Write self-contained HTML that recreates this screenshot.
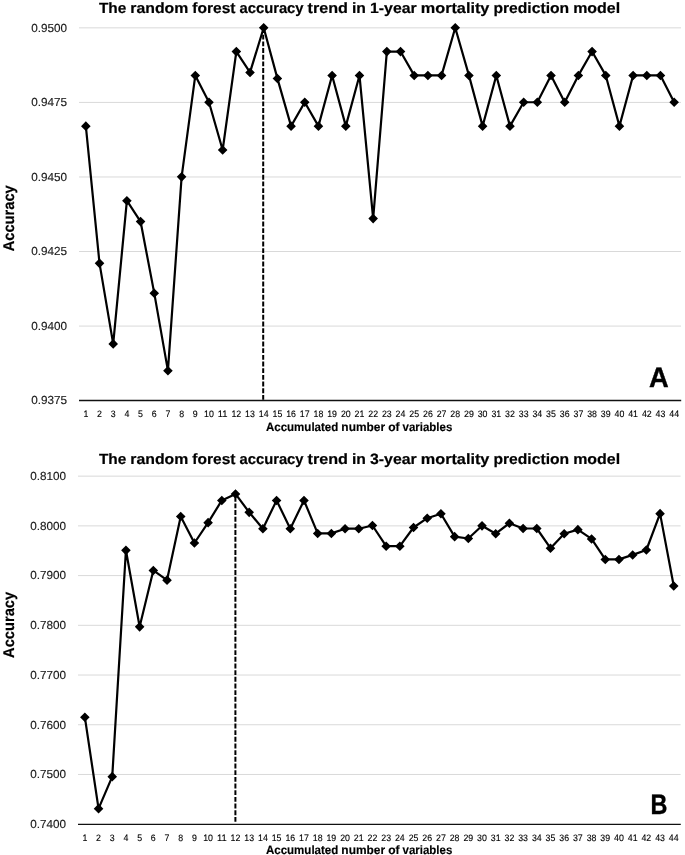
<!DOCTYPE html>
<html lang="en"><head><meta charset="utf-8"><title>Random forest accuracy trend</title>
<style>html,body{margin:0;padding:0;background:#fff}svg{display:block}text{font-family:"Liberation Sans", sans-serif;text-rendering:geometricPrecision}.t{font-weight:bold;font-size:14.9px;fill:#000;stroke:#000;stroke-width:0.2px}.yt{font-weight:bold;font-size:15.5px;fill:#000;stroke:#000;stroke-width:0.2px}.yl{font-size:11.7px;fill:#1a1a1a;stroke:#1a1a1a;stroke-width:0.15px;text-anchor:end}.xl{font-size:9.3px;fill:#000;stroke:#000;stroke-width:0.12px;text-anchor:middle}.xt{font-weight:bold;font-size:12.1px;fill:#000;stroke:#000;stroke-width:0.15px}.big{font-weight:bold;font-size:28.2px;fill:#000;stroke:#000;stroke-width:0.4px}.g{stroke:#d9d9d9;stroke-width:1;fill:none}.ax{stroke:#111;stroke-width:1.3;fill:none}.ln{stroke:#000;stroke-width:2.2;fill:none;stroke-linejoin:round;stroke-linecap:round}.d{stroke:#000;stroke-width:2;stroke-dasharray:4.9 1.77;fill:none}.m{fill:#000}</style></head><body>
<svg width="685" height="855" viewBox="0 0 685 855">
<rect width="685" height="855" fill="#fff"/>
<line class="g" x1="79.0" x2="681.0" y1="27.85" y2="27.85"/>
<line class="g" x1="79.0" x2="681.0" y1="102.41" y2="102.41"/>
<line class="g" x1="79.0" x2="681.0" y1="176.97" y2="176.97"/>
<line class="g" x1="79.0" x2="681.0" y1="251.53" y2="251.53"/>
<line class="g" x1="79.0" x2="681.0" y1="326.09" y2="326.09"/>
<text class="yl" x="67.0" y="31.50" textLength="35.8" lengthAdjust="spacingAndGlyphs">0.9500</text>
<text class="yl" x="67.0" y="106.06" textLength="35.8" lengthAdjust="spacingAndGlyphs">0.9475</text>
<text class="yl" x="67.0" y="180.62" textLength="35.8" lengthAdjust="spacingAndGlyphs">0.9450</text>
<text class="yl" x="67.0" y="255.18" textLength="35.8" lengthAdjust="spacingAndGlyphs">0.9425</text>
<text class="yl" x="67.0" y="329.74" textLength="35.8" lengthAdjust="spacingAndGlyphs">0.9400</text>
<text class="yl" x="67.0" y="404.30" textLength="35.8" lengthAdjust="spacingAndGlyphs">0.9375</text>
<line class="ax" x1="79.0" x2="681.2" y1="400.50" y2="400.50"/>
<line class="d" x1="263.20" x2="263.20" y1="399.80" y2="30.70"/>
<polyline class="ln" points="85.84,126.12 99.52,263.31 113.20,343.83 126.89,200.68 140.57,221.56 154.25,293.13 167.93,370.68 181.61,176.82 195.30,75.42 208.98,102.26 222.66,149.98 236.34,51.56 250.02,72.44 263.70,27.70 277.39,78.40 291.07,126.12 304.75,102.26 318.43,126.12 332.11,75.42 345.80,126.12 359.48,75.42 373.16,218.57 386.84,51.56 400.52,51.56 414.20,75.42 427.89,75.42 441.57,75.42 455.25,27.70 468.93,75.42 482.61,126.12 496.30,75.42 509.98,126.12 523.66,102.26 537.34,102.26 551.02,75.42 564.70,102.26 578.39,75.42 592.07,51.56 605.75,75.42 619.43,126.12 633.11,75.42 646.80,75.42 660.48,75.42 674.16,102.26"/>
<path class="m" d="M85.84 121.37l4.8 4.8l-4.8 4.8l-4.8 -4.8zM99.52 258.56l4.8 4.8l-4.8 4.8l-4.8 -4.8zM113.20 339.08l4.8 4.8l-4.8 4.8l-4.8 -4.8zM126.89 195.93l4.8 4.8l-4.8 4.8l-4.8 -4.8zM140.57 216.81l4.8 4.8l-4.8 4.8l-4.8 -4.8zM154.25 288.38l4.8 4.8l-4.8 4.8l-4.8 -4.8zM167.93 365.93l4.8 4.8l-4.8 4.8l-4.8 -4.8zM181.61 172.07l4.8 4.8l-4.8 4.8l-4.8 -4.8zM195.30 70.67l4.8 4.8l-4.8 4.8l-4.8 -4.8zM208.98 97.51l4.8 4.8l-4.8 4.8l-4.8 -4.8zM222.66 145.23l4.8 4.8l-4.8 4.8l-4.8 -4.8zM236.34 46.81l4.8 4.8l-4.8 4.8l-4.8 -4.8zM250.02 67.69l4.8 4.8l-4.8 4.8l-4.8 -4.8zM263.70 22.95l4.8 4.8l-4.8 4.8l-4.8 -4.8zM277.39 73.65l4.8 4.8l-4.8 4.8l-4.8 -4.8zM291.07 121.37l4.8 4.8l-4.8 4.8l-4.8 -4.8zM304.75 97.51l4.8 4.8l-4.8 4.8l-4.8 -4.8zM318.43 121.37l4.8 4.8l-4.8 4.8l-4.8 -4.8zM332.11 70.67l4.8 4.8l-4.8 4.8l-4.8 -4.8zM345.80 121.37l4.8 4.8l-4.8 4.8l-4.8 -4.8zM359.48 70.67l4.8 4.8l-4.8 4.8l-4.8 -4.8zM373.16 213.82l4.8 4.8l-4.8 4.8l-4.8 -4.8zM386.84 46.81l4.8 4.8l-4.8 4.8l-4.8 -4.8zM400.52 46.81l4.8 4.8l-4.8 4.8l-4.8 -4.8zM414.20 70.67l4.8 4.8l-4.8 4.8l-4.8 -4.8zM427.89 70.67l4.8 4.8l-4.8 4.8l-4.8 -4.8zM441.57 70.67l4.8 4.8l-4.8 4.8l-4.8 -4.8zM455.25 22.95l4.8 4.8l-4.8 4.8l-4.8 -4.8zM468.93 70.67l4.8 4.8l-4.8 4.8l-4.8 -4.8zM482.61 121.37l4.8 4.8l-4.8 4.8l-4.8 -4.8zM496.30 70.67l4.8 4.8l-4.8 4.8l-4.8 -4.8zM509.98 121.37l4.8 4.8l-4.8 4.8l-4.8 -4.8zM523.66 97.51l4.8 4.8l-4.8 4.8l-4.8 -4.8zM537.34 97.51l4.8 4.8l-4.8 4.8l-4.8 -4.8zM551.02 70.67l4.8 4.8l-4.8 4.8l-4.8 -4.8zM564.70 97.51l4.8 4.8l-4.8 4.8l-4.8 -4.8zM578.39 70.67l4.8 4.8l-4.8 4.8l-4.8 -4.8zM592.07 46.81l4.8 4.8l-4.8 4.8l-4.8 -4.8zM605.75 70.67l4.8 4.8l-4.8 4.8l-4.8 -4.8zM619.43 121.37l4.8 4.8l-4.8 4.8l-4.8 -4.8zM633.11 70.67l4.8 4.8l-4.8 4.8l-4.8 -4.8zM646.80 70.67l4.8 4.8l-4.8 4.8l-4.8 -4.8zM660.48 70.67l4.8 4.8l-4.8 4.8l-4.8 -4.8zM674.16 97.51l4.8 4.8l-4.8 4.8l-4.8 -4.8z"/>
<text class="xl" x="85.84" y="416.90" textLength="4.90" lengthAdjust="spacingAndGlyphs">1</text>
<text class="xl" x="99.52" y="416.90" textLength="4.90" lengthAdjust="spacingAndGlyphs">2</text>
<text class="xl" x="113.20" y="416.90" textLength="4.90" lengthAdjust="spacingAndGlyphs">3</text>
<text class="xl" x="126.89" y="416.90" textLength="4.90" lengthAdjust="spacingAndGlyphs">4</text>
<text class="xl" x="140.57" y="416.90" textLength="4.90" lengthAdjust="spacingAndGlyphs">5</text>
<text class="xl" x="154.25" y="416.90" textLength="4.90" lengthAdjust="spacingAndGlyphs">6</text>
<text class="xl" x="167.93" y="416.90" textLength="4.90" lengthAdjust="spacingAndGlyphs">7</text>
<text class="xl" x="181.61" y="416.90" textLength="4.90" lengthAdjust="spacingAndGlyphs">8</text>
<text class="xl" x="195.30" y="416.90" textLength="4.90" lengthAdjust="spacingAndGlyphs">9</text>
<text class="xl" x="208.98" y="416.90" textLength="9.80" lengthAdjust="spacingAndGlyphs">10</text>
<text class="xl" x="222.66" y="416.90" textLength="9.80" lengthAdjust="spacingAndGlyphs">11</text>
<text class="xl" x="236.34" y="416.90" textLength="9.80" lengthAdjust="spacingAndGlyphs">12</text>
<text class="xl" x="250.02" y="416.90" textLength="9.80" lengthAdjust="spacingAndGlyphs">13</text>
<text class="xl" x="263.70" y="416.90" textLength="9.80" lengthAdjust="spacingAndGlyphs">14</text>
<text class="xl" x="277.39" y="416.90" textLength="9.80" lengthAdjust="spacingAndGlyphs">15</text>
<text class="xl" x="291.07" y="416.90" textLength="9.80" lengthAdjust="spacingAndGlyphs">16</text>
<text class="xl" x="304.75" y="416.90" textLength="9.80" lengthAdjust="spacingAndGlyphs">17</text>
<text class="xl" x="318.43" y="416.90" textLength="9.80" lengthAdjust="spacingAndGlyphs">18</text>
<text class="xl" x="332.11" y="416.90" textLength="9.80" lengthAdjust="spacingAndGlyphs">19</text>
<text class="xl" x="345.80" y="416.90" textLength="9.80" lengthAdjust="spacingAndGlyphs">20</text>
<text class="xl" x="359.48" y="416.90" textLength="9.80" lengthAdjust="spacingAndGlyphs">21</text>
<text class="xl" x="373.16" y="416.90" textLength="9.80" lengthAdjust="spacingAndGlyphs">22</text>
<text class="xl" x="386.84" y="416.90" textLength="9.80" lengthAdjust="spacingAndGlyphs">23</text>
<text class="xl" x="400.52" y="416.90" textLength="9.80" lengthAdjust="spacingAndGlyphs">24</text>
<text class="xl" x="414.20" y="416.90" textLength="9.80" lengthAdjust="spacingAndGlyphs">25</text>
<text class="xl" x="427.89" y="416.90" textLength="9.80" lengthAdjust="spacingAndGlyphs">26</text>
<text class="xl" x="441.57" y="416.90" textLength="9.80" lengthAdjust="spacingAndGlyphs">27</text>
<text class="xl" x="455.25" y="416.90" textLength="9.80" lengthAdjust="spacingAndGlyphs">28</text>
<text class="xl" x="468.93" y="416.90" textLength="9.80" lengthAdjust="spacingAndGlyphs">29</text>
<text class="xl" x="482.61" y="416.90" textLength="9.80" lengthAdjust="spacingAndGlyphs">30</text>
<text class="xl" x="496.30" y="416.90" textLength="9.80" lengthAdjust="spacingAndGlyphs">31</text>
<text class="xl" x="509.98" y="416.90" textLength="9.80" lengthAdjust="spacingAndGlyphs">32</text>
<text class="xl" x="523.66" y="416.90" textLength="9.80" lengthAdjust="spacingAndGlyphs">33</text>
<text class="xl" x="537.34" y="416.90" textLength="9.80" lengthAdjust="spacingAndGlyphs">34</text>
<text class="xl" x="551.02" y="416.90" textLength="9.80" lengthAdjust="spacingAndGlyphs">35</text>
<text class="xl" x="564.70" y="416.90" textLength="9.80" lengthAdjust="spacingAndGlyphs">36</text>
<text class="xl" x="578.39" y="416.90" textLength="9.80" lengthAdjust="spacingAndGlyphs">37</text>
<text class="xl" x="592.07" y="416.90" textLength="9.80" lengthAdjust="spacingAndGlyphs">38</text>
<text class="xl" x="605.75" y="416.90" textLength="9.80" lengthAdjust="spacingAndGlyphs">39</text>
<text class="xl" x="619.43" y="416.90" textLength="9.80" lengthAdjust="spacingAndGlyphs">40</text>
<text class="xl" x="633.11" y="416.90" textLength="9.80" lengthAdjust="spacingAndGlyphs">41</text>
<text class="xl" x="646.80" y="416.90" textLength="9.80" lengthAdjust="spacingAndGlyphs">42</text>
<text class="xl" x="660.48" y="416.90" textLength="9.80" lengthAdjust="spacingAndGlyphs">43</text>
<text class="xl" x="674.16" y="416.90" textLength="9.80" lengthAdjust="spacingAndGlyphs">44</text>
<text class="t" y="12.70"><tspan x="98.90" textLength="27.38" lengthAdjust="spacingAndGlyphs">The</tspan> <tspan x="130.31" textLength="57.99" lengthAdjust="spacingAndGlyphs">random</tspan> <tspan x="192.34" textLength="43.19" lengthAdjust="spacingAndGlyphs">forest</tspan> <tspan x="239.55" textLength="63.96" lengthAdjust="spacingAndGlyphs">accuracy</tspan> <tspan x="307.55" textLength="40.45" lengthAdjust="spacingAndGlyphs">trend</tspan> <tspan x="352.03" textLength="13.94" lengthAdjust="spacingAndGlyphs">in</tspan> <tspan x="370.02" textLength="46.69" lengthAdjust="spacingAndGlyphs">1-year</tspan> <tspan x="420.75" textLength="68.65" lengthAdjust="spacingAndGlyphs">mortality</tspan> <tspan x="493.43" textLength="75.71" lengthAdjust="spacingAndGlyphs">prediction</tspan> <tspan x="573.17" textLength="47.03" lengthAdjust="spacingAndGlyphs">model</tspan></text>
<text class="xt" y="430.90"><tspan x="265.90" textLength="72.46" lengthAdjust="spacingAndGlyphs">Accumulated</tspan> <tspan x="341.37" textLength="43.76" lengthAdjust="spacingAndGlyphs">number</tspan> <tspan x="388.15" textLength="11.36" lengthAdjust="spacingAndGlyphs">of</tspan> <tspan x="402.55" textLength="49.75" lengthAdjust="spacingAndGlyphs">variables</tspan></text>
<text class="yt" transform="translate(13.8 218.30) rotate(-90)" text-anchor="middle" textLength="66.0" lengthAdjust="spacingAndGlyphs">Accuracy</text>
<text class="big" x="648.90" y="387.40" textLength="19.7" lengthAdjust="spacingAndGlyphs">A</text>
<line class="g" x1="78.0" x2="680.6" y1="476.15" y2="476.15"/>
<line class="g" x1="78.0" x2="680.6" y1="525.87" y2="525.87"/>
<line class="g" x1="78.0" x2="680.6" y1="575.59" y2="575.59"/>
<line class="g" x1="78.0" x2="680.6" y1="625.31" y2="625.31"/>
<line class="g" x1="78.0" x2="680.6" y1="675.04" y2="675.04"/>
<line class="g" x1="78.0" x2="680.6" y1="724.76" y2="724.76"/>
<line class="g" x1="78.0" x2="680.6" y1="774.48" y2="774.48"/>
<text class="yl" x="66.1" y="480.00" textLength="35.8" lengthAdjust="spacingAndGlyphs">0.8100</text>
<text class="yl" x="66.1" y="529.72" textLength="35.8" lengthAdjust="spacingAndGlyphs">0.8000</text>
<text class="yl" x="66.1" y="579.44" textLength="35.8" lengthAdjust="spacingAndGlyphs">0.7900</text>
<text class="yl" x="66.1" y="629.16" textLength="35.8" lengthAdjust="spacingAndGlyphs">0.7800</text>
<text class="yl" x="66.1" y="678.89" textLength="35.8" lengthAdjust="spacingAndGlyphs">0.7700</text>
<text class="yl" x="66.1" y="728.61" textLength="35.8" lengthAdjust="spacingAndGlyphs">0.7600</text>
<text class="yl" x="66.1" y="778.33" textLength="35.8" lengthAdjust="spacingAndGlyphs">0.7500</text>
<text class="yl" x="66.1" y="828.05" textLength="35.8" lengthAdjust="spacingAndGlyphs">0.7400</text>
<line class="ax" x1="78.0" x2="680.8" y1="824.40" y2="824.40"/>
<line class="d" x1="235.40" x2="235.40" y1="821.80" y2="496.90"/>
<polyline class="ln" points="84.85,717.20 98.54,808.60 112.24,776.60 125.93,550.30 139.63,626.80 153.32,570.40 167.02,580.10 180.72,516.40 194.41,543.00 208.11,522.60 221.80,500.40 235.50,493.90 249.19,512.30 262.89,528.70 276.58,500.40 290.28,528.70 303.98,500.40 317.67,533.40 331.37,533.40 345.06,528.70 358.76,528.70 372.45,525.50 386.15,546.20 399.84,546.20 413.54,527.50 427.23,518.20 440.93,513.70 454.62,536.60 468.32,538.50 482.02,525.80 495.71,533.70 509.41,523.20 523.10,528.50 536.80,528.50 550.49,548.20 564.19,533.70 577.88,529.60 591.58,538.90 605.27,559.40 618.97,559.40 632.67,554.90 646.36,550.00 660.06,513.60 673.75,586.00"/>
<path class="m" d="M84.85 712.45l4.8 4.8l-4.8 4.8l-4.8 -4.8zM98.54 803.85l4.8 4.8l-4.8 4.8l-4.8 -4.8zM112.24 771.85l4.8 4.8l-4.8 4.8l-4.8 -4.8zM125.93 545.55l4.8 4.8l-4.8 4.8l-4.8 -4.8zM139.63 622.05l4.8 4.8l-4.8 4.8l-4.8 -4.8zM153.32 565.65l4.8 4.8l-4.8 4.8l-4.8 -4.8zM167.02 575.35l4.8 4.8l-4.8 4.8l-4.8 -4.8zM180.72 511.65l4.8 4.8l-4.8 4.8l-4.8 -4.8zM194.41 538.25l4.8 4.8l-4.8 4.8l-4.8 -4.8zM208.11 517.85l4.8 4.8l-4.8 4.8l-4.8 -4.8zM221.80 495.65l4.8 4.8l-4.8 4.8l-4.8 -4.8zM235.50 489.15l4.8 4.8l-4.8 4.8l-4.8 -4.8zM249.19 507.55l4.8 4.8l-4.8 4.8l-4.8 -4.8zM262.89 523.95l4.8 4.8l-4.8 4.8l-4.8 -4.8zM276.58 495.65l4.8 4.8l-4.8 4.8l-4.8 -4.8zM290.28 523.95l4.8 4.8l-4.8 4.8l-4.8 -4.8zM303.98 495.65l4.8 4.8l-4.8 4.8l-4.8 -4.8zM317.67 528.65l4.8 4.8l-4.8 4.8l-4.8 -4.8zM331.37 528.65l4.8 4.8l-4.8 4.8l-4.8 -4.8zM345.06 523.95l4.8 4.8l-4.8 4.8l-4.8 -4.8zM358.76 523.95l4.8 4.8l-4.8 4.8l-4.8 -4.8zM372.45 520.75l4.8 4.8l-4.8 4.8l-4.8 -4.8zM386.15 541.45l4.8 4.8l-4.8 4.8l-4.8 -4.8zM399.84 541.45l4.8 4.8l-4.8 4.8l-4.8 -4.8zM413.54 522.75l4.8 4.8l-4.8 4.8l-4.8 -4.8zM427.23 513.45l4.8 4.8l-4.8 4.8l-4.8 -4.8zM440.93 508.95l4.8 4.8l-4.8 4.8l-4.8 -4.8zM454.62 531.85l4.8 4.8l-4.8 4.8l-4.8 -4.8zM468.32 533.75l4.8 4.8l-4.8 4.8l-4.8 -4.8zM482.02 521.05l4.8 4.8l-4.8 4.8l-4.8 -4.8zM495.71 528.95l4.8 4.8l-4.8 4.8l-4.8 -4.8zM509.41 518.45l4.8 4.8l-4.8 4.8l-4.8 -4.8zM523.10 523.75l4.8 4.8l-4.8 4.8l-4.8 -4.8zM536.80 523.75l4.8 4.8l-4.8 4.8l-4.8 -4.8zM550.49 543.45l4.8 4.8l-4.8 4.8l-4.8 -4.8zM564.19 528.95l4.8 4.8l-4.8 4.8l-4.8 -4.8zM577.88 524.85l4.8 4.8l-4.8 4.8l-4.8 -4.8zM591.58 534.15l4.8 4.8l-4.8 4.8l-4.8 -4.8zM605.27 554.65l4.8 4.8l-4.8 4.8l-4.8 -4.8zM618.97 554.65l4.8 4.8l-4.8 4.8l-4.8 -4.8zM632.67 550.15l4.8 4.8l-4.8 4.8l-4.8 -4.8zM646.36 545.25l4.8 4.8l-4.8 4.8l-4.8 -4.8zM660.06 508.85l4.8 4.8l-4.8 4.8l-4.8 -4.8zM673.75 581.25l4.8 4.8l-4.8 4.8l-4.8 -4.8z"/>
<text class="xl" x="84.85" y="840.70" textLength="4.90" lengthAdjust="spacingAndGlyphs">1</text>
<text class="xl" x="98.54" y="840.70" textLength="4.90" lengthAdjust="spacingAndGlyphs">2</text>
<text class="xl" x="112.24" y="840.70" textLength="4.90" lengthAdjust="spacingAndGlyphs">3</text>
<text class="xl" x="125.93" y="840.70" textLength="4.90" lengthAdjust="spacingAndGlyphs">4</text>
<text class="xl" x="139.63" y="840.70" textLength="4.90" lengthAdjust="spacingAndGlyphs">5</text>
<text class="xl" x="153.32" y="840.70" textLength="4.90" lengthAdjust="spacingAndGlyphs">6</text>
<text class="xl" x="167.02" y="840.70" textLength="4.90" lengthAdjust="spacingAndGlyphs">7</text>
<text class="xl" x="180.72" y="840.70" textLength="4.90" lengthAdjust="spacingAndGlyphs">8</text>
<text class="xl" x="194.41" y="840.70" textLength="4.90" lengthAdjust="spacingAndGlyphs">9</text>
<text class="xl" x="208.11" y="840.70" textLength="9.80" lengthAdjust="spacingAndGlyphs">10</text>
<text class="xl" x="221.80" y="840.70" textLength="9.80" lengthAdjust="spacingAndGlyphs">11</text>
<text class="xl" x="235.50" y="840.70" textLength="9.80" lengthAdjust="spacingAndGlyphs">12</text>
<text class="xl" x="249.19" y="840.70" textLength="9.80" lengthAdjust="spacingAndGlyphs">13</text>
<text class="xl" x="262.89" y="840.70" textLength="9.80" lengthAdjust="spacingAndGlyphs">14</text>
<text class="xl" x="276.58" y="840.70" textLength="9.80" lengthAdjust="spacingAndGlyphs">15</text>
<text class="xl" x="290.28" y="840.70" textLength="9.80" lengthAdjust="spacingAndGlyphs">16</text>
<text class="xl" x="303.98" y="840.70" textLength="9.80" lengthAdjust="spacingAndGlyphs">17</text>
<text class="xl" x="317.67" y="840.70" textLength="9.80" lengthAdjust="spacingAndGlyphs">18</text>
<text class="xl" x="331.37" y="840.70" textLength="9.80" lengthAdjust="spacingAndGlyphs">19</text>
<text class="xl" x="345.06" y="840.70" textLength="9.80" lengthAdjust="spacingAndGlyphs">20</text>
<text class="xl" x="358.76" y="840.70" textLength="9.80" lengthAdjust="spacingAndGlyphs">21</text>
<text class="xl" x="372.45" y="840.70" textLength="9.80" lengthAdjust="spacingAndGlyphs">22</text>
<text class="xl" x="386.15" y="840.70" textLength="9.80" lengthAdjust="spacingAndGlyphs">23</text>
<text class="xl" x="399.84" y="840.70" textLength="9.80" lengthAdjust="spacingAndGlyphs">24</text>
<text class="xl" x="413.54" y="840.70" textLength="9.80" lengthAdjust="spacingAndGlyphs">25</text>
<text class="xl" x="427.23" y="840.70" textLength="9.80" lengthAdjust="spacingAndGlyphs">26</text>
<text class="xl" x="440.93" y="840.70" textLength="9.80" lengthAdjust="spacingAndGlyphs">27</text>
<text class="xl" x="454.62" y="840.70" textLength="9.80" lengthAdjust="spacingAndGlyphs">28</text>
<text class="xl" x="468.32" y="840.70" textLength="9.80" lengthAdjust="spacingAndGlyphs">29</text>
<text class="xl" x="482.02" y="840.70" textLength="9.80" lengthAdjust="spacingAndGlyphs">30</text>
<text class="xl" x="495.71" y="840.70" textLength="9.80" lengthAdjust="spacingAndGlyphs">31</text>
<text class="xl" x="509.41" y="840.70" textLength="9.80" lengthAdjust="spacingAndGlyphs">32</text>
<text class="xl" x="523.10" y="840.70" textLength="9.80" lengthAdjust="spacingAndGlyphs">33</text>
<text class="xl" x="536.80" y="840.70" textLength="9.80" lengthAdjust="spacingAndGlyphs">34</text>
<text class="xl" x="550.49" y="840.70" textLength="9.80" lengthAdjust="spacingAndGlyphs">35</text>
<text class="xl" x="564.19" y="840.70" textLength="9.80" lengthAdjust="spacingAndGlyphs">36</text>
<text class="xl" x="577.88" y="840.70" textLength="9.80" lengthAdjust="spacingAndGlyphs">37</text>
<text class="xl" x="591.58" y="840.70" textLength="9.80" lengthAdjust="spacingAndGlyphs">38</text>
<text class="xl" x="605.27" y="840.70" textLength="9.80" lengthAdjust="spacingAndGlyphs">39</text>
<text class="xl" x="618.97" y="840.70" textLength="9.80" lengthAdjust="spacingAndGlyphs">40</text>
<text class="xl" x="632.67" y="840.70" textLength="9.80" lengthAdjust="spacingAndGlyphs">41</text>
<text class="xl" x="646.36" y="840.70" textLength="9.80" lengthAdjust="spacingAndGlyphs">42</text>
<text class="xl" x="660.06" y="840.70" textLength="9.80" lengthAdjust="spacingAndGlyphs">43</text>
<text class="xl" x="673.75" y="840.70" textLength="9.80" lengthAdjust="spacingAndGlyphs">44</text>
<text class="t" y="464.30"><tspan x="98.90" textLength="27.38" lengthAdjust="spacingAndGlyphs">The</tspan> <tspan x="130.31" textLength="57.99" lengthAdjust="spacingAndGlyphs">random</tspan> <tspan x="192.34" textLength="43.19" lengthAdjust="spacingAndGlyphs">forest</tspan> <tspan x="239.55" textLength="63.96" lengthAdjust="spacingAndGlyphs">accuracy</tspan> <tspan x="307.55" textLength="40.45" lengthAdjust="spacingAndGlyphs">trend</tspan> <tspan x="352.03" textLength="13.94" lengthAdjust="spacingAndGlyphs">in</tspan> <tspan x="370.02" textLength="46.69" lengthAdjust="spacingAndGlyphs">3-year</tspan> <tspan x="420.75" textLength="68.65" lengthAdjust="spacingAndGlyphs">mortality</tspan> <tspan x="493.43" textLength="75.71" lengthAdjust="spacingAndGlyphs">prediction</tspan> <tspan x="573.17" textLength="47.03" lengthAdjust="spacingAndGlyphs">model</tspan></text>
<text class="xt" y="854.40"><tspan x="265.90" textLength="72.46" lengthAdjust="spacingAndGlyphs">Accumulated</tspan> <tspan x="341.37" textLength="43.76" lengthAdjust="spacingAndGlyphs">number</tspan> <tspan x="388.15" textLength="11.36" lengthAdjust="spacingAndGlyphs">of</tspan> <tspan x="402.55" textLength="49.75" lengthAdjust="spacingAndGlyphs">variables</tspan></text>
<text class="yt" transform="translate(13.8 624.90) rotate(-90)" text-anchor="middle" textLength="66.0" lengthAdjust="spacingAndGlyphs">Accuracy</text>
<text class="big" x="650.60" y="813.50" textLength="16.9" lengthAdjust="spacingAndGlyphs">B</text>
</svg></body></html>
